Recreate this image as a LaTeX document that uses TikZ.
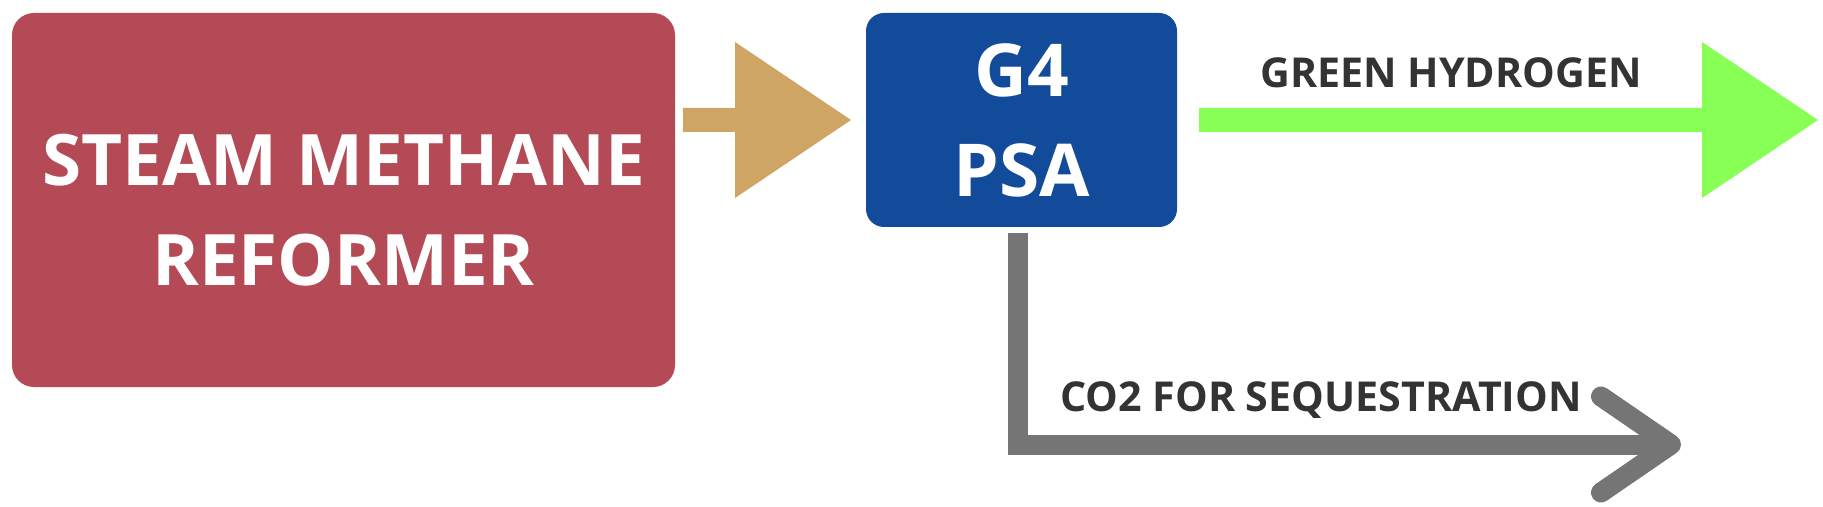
\documentclass[tikz,border=0pt]{standalone}
\usepackage{fontspec}
\setmainfont{Open Sans}
\usetikzlibrary{positioning}
\definecolor{smrred}{HTML}{B34A55}
\definecolor{feedtan}{HTML}{CFA565}
\definecolor{psablue}{HTML}{114B9A}
\definecolor{htwogreen}{HTML}{88FF55}
\definecolor{cotwogray}{HTML}{757575}
\definecolor{labelgray}{HTML}{333333}
\newcommand{\blockarrow}[3]{\fill[#3] ([yshift=6pt]#1) -- ([xshift=-58pt,yshift=6pt]#2) -- ([xshift=-58pt,yshift=39pt]#2) -- (#2) -- ([xshift=-58pt,yshift=-39pt]#2) -- ([xshift=-58pt,yshift=-6pt]#2) -- ([yshift=-6pt]#1) -- cycle;}
\begin{document}
\begin{tikzpicture}[x=0.5pt, y=-0.5pt, inner sep=0pt, outer sep=0pt,
    unit/.style={rounded corners=#1, text=white, align=center},
    unittext/.style={text=white, align=center, font=\bfseries\fontsize{35.5}{50}\selectfont},
    flowlabel/.style={text=labelgray, anchor=base, font=\bfseries\fontsize{20.6}{25}\selectfont},
    co2line/.style={draw=cotwogray, line width=10pt}]
    \useasboundingbox (0,0) rectangle (1823,507);
    \node[unit=11pt, fill=smrred, minimum width=331.5pt, minimum height=187pt] (smr) at (343.5,200) {};
    \node[unittext] (smrtext) at (343.5,210.5) {STEAM METHANE\\REFORMER};
    \node[unit=9pt, fill=psablue, minimum width=155.5pt, minimum height=107pt, font=\bfseries\fontsize{36.5}{50}\selectfont] (psa) at (1021.5,120) {G4\\PSA};

    \coordinate (feedtail) at ([xshift=4pt]smr.east |- psa.west);
    \coordinate (feedtip) at ([xshift=-7.5pt]psa.west);
    \coordinate (htwotail) at ([xshift=11pt]psa.east);
    \coordinate (htwotip) at (1818,120);
    \blockarrow{feedtail}{feedtip}{feedtan}
    \blockarrow{htwotail}{htwotip}{htwogreen}

    \coordinate (co2start) at ([xshift=-2pt,yshift=-3pt]psa.south);
    \coordinate (co2tip) at (1671,444.5);
    \draw[co2line] (co2start) |- (co2tip);
    \draw[co2line, line cap=round, line join=round] ([xshift=-35pt,yshift=24pt]co2tip) -- (co2tip) -- ([xshift=-35pt,yshift=-24pt]co2tip);

    \node[flowlabel] (h2label) at (1451,88) {GREEN HYDROGEN};
    \node[flowlabel] (co2label) at (1321,411) {CO2 FOR SEQUESTRATION};
\end{tikzpicture}
\end{document}
